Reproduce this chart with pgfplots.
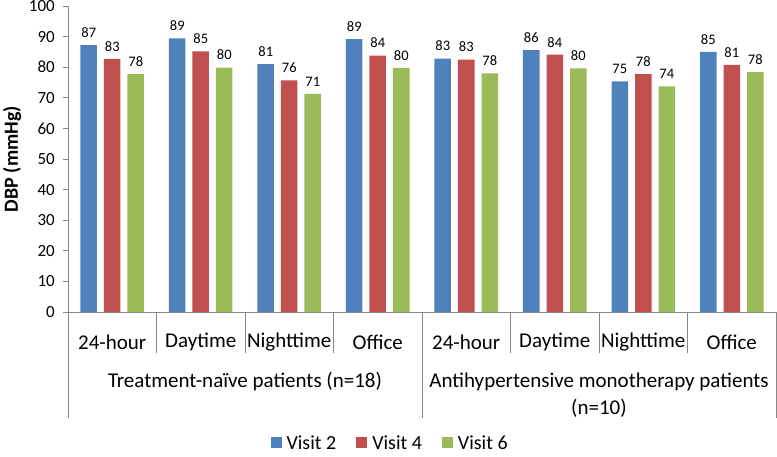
\documentclass[border=0pt]{standalone}
\usepackage{pgfplots}
\pgfplotsset{compat=1.18}
\usepackage{fontspec}
\setmainfont{Carlito}
\definecolor{cblue}{HTML}{4F81BD}
\definecolor{cred}{HTML}{C0504D}
\definecolor{cgreen}{HTML}{9BBB59}
\definecolor{axgray}{HTML}{868686}
\begin{document}
\begin{tikzpicture}
\useasboundingbox (-68pt,-144pt) rectangle (709pt,312pt);
\begin{axis}[
  at={(0pt,0pt)}, anchor=south west,
  scale only axis, width=708pt, height=306pt,
  clip=false,
  ybar=7pt, bar width=16.5pt,
  xmin=-0.5, xmax=7.5, ymin=0, ymax=100,
  axis lines*=left,
  axis line style={axgray, line width=0.8pt},
  ytick={0,10,...,100},
  xtick={0,...,7},
  xticklabels={24-hour,Daytime,Nighttime,Office,24-hour,Daytime,Nighttime,Office},
  x tick style={draw=none},
  y tick style={axgray, line width=0.8pt},
  ytick align=outside, major tick length=5pt,
  /pgf/number format/assume math mode=true,
  yticklabel style={font=\fontsize{17}{18}\selectfont, anchor=east, inner sep=0pt, xshift=-8pt},
  xticklabel style={font=\fontsize{21}{24}\selectfont, anchor=center, yshift=-25pt},
  ylabel={\textbf{DBP (mmHg)}},
  ylabel style={font=\fontsize{20}{24}\selectfont, at={(axis description cs:-0.079,0.5)}, anchor=center},
  point meta=explicit symbolic,
  nodes near coords,
  nodes near coords style={font=\fontsize{14.5}{16}\selectfont, text=black, anchor=south, yshift=4pt},
  legend style={at={(0.455,-0.428)}, anchor=center, legend columns=3, draw=none,
    font=\fontsize{20}{21}\selectfont, inner sep=1pt,
    /tikz/every even column/.append style={column sep=18pt},
    /tikz/every odd column/.append style={column sep=3pt}},
]
\addplot[fill=cblue, draw=none, legend image code/.code={\fill[cblue] (0pt,-5.5pt) rectangle (11pt,5.5pt);}]
  coordinates {(0,87.2) [87] (1,89.4) [89] (2,81.0) [81] (3,89.2) [89]
               (4,82.8) [83] (5,85.6) [86] (6,75.4) [75] (7,85.0) [85]};
\addplot[fill=cred, draw=none, legend image code/.code={\fill[cred] (0pt,-5.5pt) rectangle (11pt,5.5pt);}]
  coordinates {(0,82.7) [83] (1,85.2) [85] (2,75.7) [76] (3,83.8) [84]
               (4,82.5) [83] (5,84.1) [84] (6,77.7) [78] (7,80.8) [81]};
\addplot[fill=cgreen, draw=none, legend image code/.code={\fill[cgreen] (0pt,-5.5pt) rectangle (11pt,5.5pt);}]
  coordinates {(0,77.7) [78] (1,79.9) [80] (2,71.3) [71] (3,79.8) [80]
               (4,78.0) [78] (5,79.6) [80] (6,73.7) [74] (7,78.4) [78]};
\legend{Visit 2, Visit 4, Visit 6}
\pgfplotsinvokeforeach{0.5,1.5,2.5,4.5,5.5,6.5}{
  \draw[axgray, line width=0.8pt] (axis cs:#1,0) -- ([yshift=-41pt]axis cs:#1,0);
}
\pgfplotsinvokeforeach{-0.5,3.5,7.5}{
  \draw[axgray, line width=0.8pt] (axis cs:#1,0) -- ([yshift=-106pt]axis cs:#1,0);
}
\node[font=\fontsize{21}{24}\selectfont, anchor=center] at ([yshift=-70pt]axis cs:1.5,0) {Treatment-naïve patients (n=18)};
\node[font=\fontsize{21}{24}\selectfont, anchor=center] at ([yshift=-70pt]axis cs:5.5,0) {Antihypertensive monotherapy patients};
\node[font=\fontsize{21}{24}\selectfont, anchor=center] at ([yshift=-96pt]axis cs:5.5,0) {(n=10)};
\end{axis}
\end{tikzpicture}
\end{document}
